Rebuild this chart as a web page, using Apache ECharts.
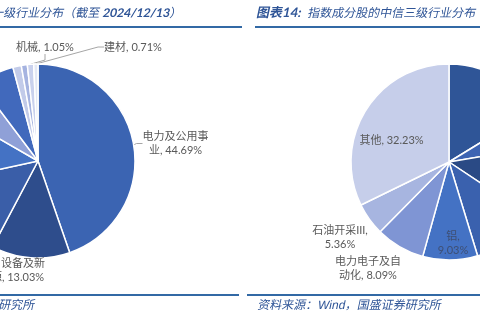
<!DOCTYPE html>
<html><head><meta charset="utf-8">
<script src="https://cdn.jsdelivr.net/npm/echarts@6/dist/echarts.min.js"></script>
<style>html,body{margin:0;padding:0;background:#fff}#c{width:480px;height:320px}</style>
</head><body><div id="c"></div>
<script>
// Left pie: CITIC level-1 industries (clockwise from 12 o'clock). Unlabelled slices are cut off in the picture.
var leftNames  = ['电力及公用事业','电力设备及新能源','未显示行业A','未显示行业B','未显示行业C','未显示行业D','未显示行业E','未显示行业F','机械','建材'];
var leftValues = [44.69, 13.03, 13.9, 11.7, 6.4, 6.1, 1.4, 1.0, 1.05, 0.71];
var leftShown  = ['电力及公用事业','电力设备及新能源','机械','建材'];

// Right pie: CITIC level-3 industries (clockwise from 12 o'clock).
var rightNames  = ['未显示行业1','未显示行业2','未显示行业3','未显示行业4','铝','电力电子及自动化','石油开采III','其他'];
var rightValues = [16.25, 6.1, 12.0, 10.94, 9.03, 8.09, 5.36, 32.23];
var rightShown  = ['铝','电力电子及自动化','石油开采III','其他'];

var titleLeft  = '图表13：指数成分股的中信一级行业分布（截至 ';
var titleDate  = '2024/12/13';
var titleRight = '指数成分股的中信三级行业分布（截至 2024/12/13）';
var sourceText = '资料来源：Wind，国盛证券研究所';

// styling / layout (not data)
var leftColors  = ['#3B64B2','#2E4D8C','#3A5EA8','#4472C4','#8FA0D7','#4169BC','#C2CBE9','#A5B3E0','#C9D1ED','#E3E8F5'];
var rightColors = ['#2F5597','#3D64B3','#2A4A85','#3A61AE','#4472C4','#7F95D4','#A7B5E0','#C6CEEA'];
var breakAt = {'电力及公用事业':6,'电力设备及新能源':6,'电力电子及自动化':6,'石油开采III':-1,'铝':-1};
var labelPos = {
  '电力及公用事业':[175.5,143.5], '电力设备及新能源':[12,270.5], '机械':[45,47], '建材':[133,47],
  '其他':[391.5,140], '铝':[453,243], '石油开采III':[340,237.5], '电力电子及自动化':[368,268]
};
var FONT = 'Lato, "Noto Sans CJK SC", sans-serif';
var BLUE = '#2F5597';
var SKEW = -0.21;

function fmt(p){
  var v = p.value.toFixed(2) + '%';
  var n = p.name, b = breakAt[n];
  if (b === undefined) return n + ', ' + v;
  if (b === -1) return n + ',\n' + v;
  return n.slice(0,b) + '\n' + n.slice(b) + ', ' + v;
}
function buildData(names, values, colors, shown, insideSet, noLine){
  return names.map(function(n,i){
    var show = shown.indexOf(n) >= 0;
    var d = {name:n, value:values[i], itemStyle:{color:colors[i]},
      label:{show:show}, labelLine:{show: show && noLine.indexOf(n) < 0}};
    if (insideSet.indexOf(n) >= 0) { d.label.position = 'inside'; }
    if (n === '铝') d.label.color = '#3E4F74';
    return d;
  });
}
function layoutFn(names){
  return function(p){
    var pos = labelPos[names[p.dataIndex]];
    if (!pos) return;
    return {x:pos[0], y:pos[1], align:'center', verticalAlign:'middle'};
  };
}
var labelCommon = {position:'outside', formatter:fmt, fontSize:11, lineHeight:14, color:'#595959', fontFamily:FONT};
var lineCommon = {length:6, length2:6, lineStyle:{color:'#A6A6A6', width:1}};
var richTitle = {a:{fontSize:12, fontFamily:FONT, fill:BLUE, color:BLUE},
                 b:{fontSize:12, fontWeight:'bold', fontFamily:FONT, fill:BLUE, color:BLUE},
                 c:{fontSize:13, fontWeight:'bold', fontFamily:FONT, fill:BLUE, color:BLUE}};

var chart = echarts.init(document.getElementById('c'), null, {renderer:'canvas'});
chart.setOption({
  animation:false,
  backgroundColor:'#ffffff',
  series:[
    {type:'pie', center:[38,161], radius:97, startAngle:90, clockwise:true,
     avoidLabelOverlap:false, silent:true,
     itemStyle:{borderColor:'#fff', borderWidth:1.5},
     label:labelCommon, labelLine:lineCommon,
     labelLayout: layoutFn(leftNames),
     data: buildData(leftNames, leftValues, leftColors, leftShown, [], ['电力设备及新能源'])},
    {type:'pie', center:[449,162], radius:98, startAngle:90, clockwise:true,
     avoidLabelOverlap:false, silent:true,
     itemStyle:{borderColor:'#fff', borderWidth:1.5},
     label:labelCommon, labelLine:lineCommon,
     labelLayout: layoutFn(rightNames),
     data: buildData(rightNames, rightValues, rightColors, rightShown, ['其他','铝'], ['其他','铝','石油开采III','电力电子及自动化'])}
  ],
  graphic:[
    {type:'text', x:182, y:13, skewX:SKEW, silent:true,
     style:{text:'{a|'+titleLeft+'}{b|'+titleDate+'}{a|）}', align:'right', verticalAlign:'middle', rich:richTitle}},
    {type:'text', x:257, y:13, skewX:SKEW, silent:true,
     style:{text:'{c|图表14:}  {a|'+titleRight+'}', align:'left', verticalAlign:'middle', rich:richTitle}},
    {type:'line', silent:true, shape:{x1:0,y1:27,x2:242,y2:27}, style:{stroke:'#3269A5', lineWidth:2}},
    {type:'line', silent:true, shape:{x1:255,y1:27,x2:480,y2:27}, style:{stroke:'#3269A5', lineWidth:2}},
    {type:'line', silent:true, shape:{x1:0,y1:295,x2:239,y2:295}, style:{stroke:'#3269A5', lineWidth:2}},
    {type:'line', silent:true, shape:{x1:247,y1:295,x2:480,y2:295}, style:{stroke:'#3269A5', lineWidth:2}},
    {type:'text', x:35, y:306, skewX:SKEW, silent:true,
     style:{text:sourceText, align:'right', verticalAlign:'middle', fill:BLUE,
       font:'12px "Liberation Sans", "Noto Sans CJK SC", sans-serif'}},
    {type:'text', x:258, y:306, skewX:SKEW, silent:true,
     style:{text:sourceText, align:'left', verticalAlign:'middle', fill:BLUE,
       font:'12px "Liberation Sans", "Noto Sans CJK SC", sans-serif'}}
  ]
});
</script>
</body></html>
